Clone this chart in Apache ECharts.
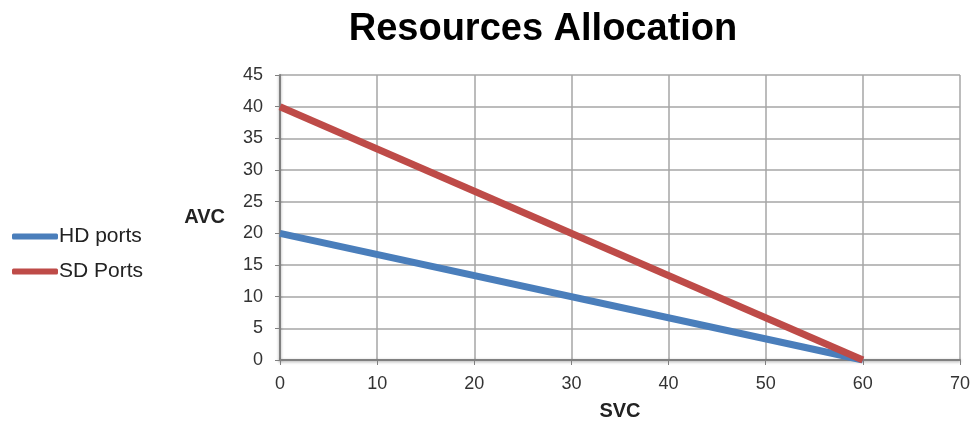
<!DOCTYPE html>
<html>
<head>
<meta charset="utf-8">
<script src="https://cdn.jsdelivr.net/npm/echarts@6/dist/echarts.min.js"></script>
<style>
  html, body { margin: 0; padding: 0; background: #fff; }
  #chart { width: 977px; height: 425px; }
</style>
</head>
<body>
<div id="chart"></div>
<script>
// data
var seriesNames = ["HD ports", "SD Ports"];
var hdPorts = [[0, 20], [60, 0]];
var sdPorts = [[0, 40], [60, 0]];
var xTicks = [0, 10, 20, 30, 40, 50, 60, 70];
var yTicks = [0, 5, 10, 15, 20, 25, 30, 35, 40, 45];

var chart = echarts.init(document.getElementById("chart"));

var axisLine = {
  show: true,
  lineStyle: { color: "#808080", width: 2, shadowColor: "rgba(0,0,0,0.35)", shadowBlur: 3, shadowOffsetY: 1 }
};

var option = {
  animation: false,
  backgroundColor: "#fff",
  title: {
    text: "Resources Allocation",
    left: 538,
    textAlign: "center",
    top: 6,
    textStyle: { fontFamily: "Liberation Sans, Arial", fontSize: 38, fontWeight: "bold", color: "#000" }
  },
  legend: {
    orient: "vertical",
    left: 7,
    top: 221,
    itemWidth: 46,
    itemHeight: 6,
    itemGap: 14,
    icon: "roundRect",
    data: seriesNames,
    textStyle: { fontFamily: "Liberation Sans, Arial", fontSize: 21, color: "#222", padding: [0, 0, 0, -4] }
  },
  grid: { left: 280, right: 17, top: 75, bottom: 65, containLabel: false, outerBoundsMode: "none" },
  xAxis: {
    type: "value",
    min: xTicks[0],
    max: xTicks[xTicks.length - 1],
    interval: 10,
    name: "SVC",
    nameLocation: "middle",
    nameGap: 41,
    nameTextStyle: { fontFamily: "Liberation Sans, Arial", fontSize: 20, fontWeight: "bold", color: "#222" },
    axisLine: axisLine,
    axisTick: { show: true, length: 5, lineStyle: { color: "#808080" } },
    axisLabel: { fontFamily: "Liberation Sans, Arial", fontSize: 18, color: "#333", margin: 15 },
    splitLine: { show: true, lineStyle: { color: "#a6a6a6", width: 1.5 } }
  },
  yAxis: {
    type: "value",
    min: yTicks[0],
    max: yTicks[yTicks.length - 1],
    interval: 5,
    name: "AVC",
    nameLocation: "middle",
    nameRotate: 0,
    nameGap: 55,
    nameTextStyle: { fontFamily: "Liberation Sans, Arial", fontSize: 20, fontWeight: "bold", color: "#222" },
    axisLine: axisLine,
    axisTick: { show: true, length: 5, lineStyle: { color: "#808080" } },
    axisLabel: { fontFamily: "Liberation Sans, Arial", fontSize: 18, color: "#333", margin: 17 },
    splitLine: { show: true, lineStyle: { color: "#a6a6a6", width: 1.5 } }
  },
  series: [
    {
      name: seriesNames[0],
      type: "line",
      data: hdPorts,
      symbol: "none",
      color: "#4a7ebb",
      lineStyle: { width: 7, color: "#4a7ebb" }
    },
    {
      name: seriesNames[1],
      type: "line",
      data: sdPorts,
      symbol: "none",
      color: "#be4b48",
      lineStyle: { width: 7, color: "#be4b48" }
    }
  ]
};

chart.setOption(option);
</script>
</body>
</html>
